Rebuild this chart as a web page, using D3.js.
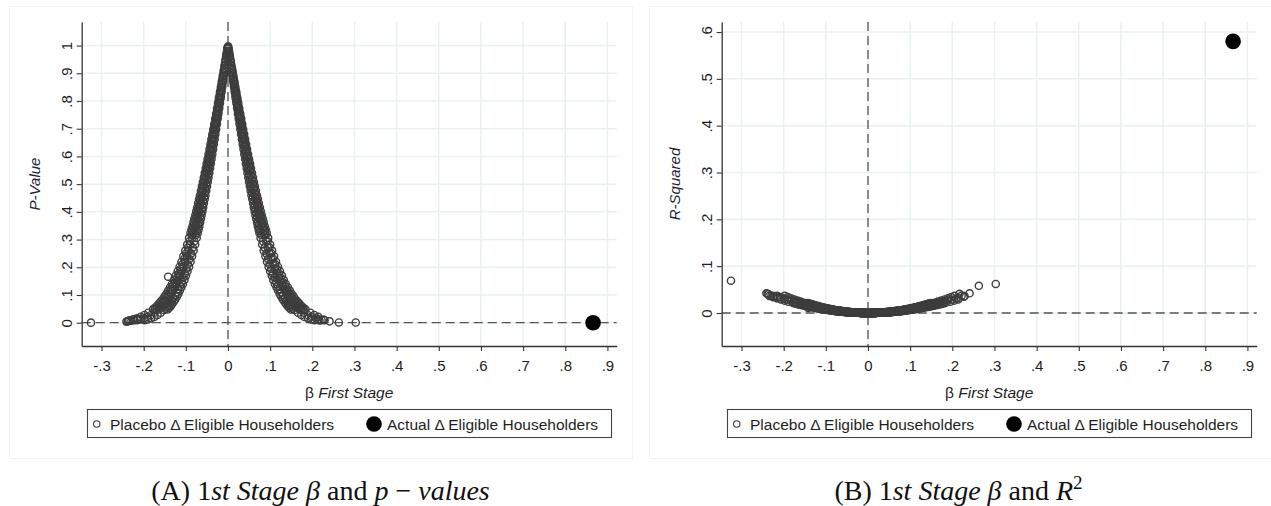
<!DOCTYPE html>
<html>
<head>
<meta charset="utf-8">
<script src="https://cdnjs.cloudflare.com/ajax/libs/d3/7.8.5/d3.min.js"></script>
<style>
    body { margin: 0; background: #fff; }
    svg { display: block; font-family: "Liberation Sans", Arial, sans-serif; }
</style>
</head>
<body>
<div id="chart"></div>
<script>
// tick values
var betaTicks = [-0.3, -0.2, -0.1, 0, 0.1, 0.2, 0.3, 0.4, 0.5, 0.6, 0.7, 0.8, 0.9];
var pValueTicks = [0, 0.1, 0.2, 0.3, 0.4, 0.5, 0.6, 0.7, 0.8, 0.9, 1];
var rSquaredTicks = [0, 0.1, 0.2, 0.3, 0.4, 0.5, 0.6];

var legendLabels = ["Placebo \u0394 Eligible Householders", "Actual \u0394 Eligible Householders"];

// actual estimate
var actualBeta = [0.866];
var actualPValue = [0.0];
var actualRSquared = [0.58];

// placebo estimates (beta, p-value, R-squared)
var placeboBeta = [
    -0.0019, -0.0038, -0.0057, -0.0076, -0.0095, -0.0114, -0.0133, -0.0152, -0.0171, -0.0190,
    -0.0209, -0.0228, -0.0247, -0.0266, -0.0285, -0.0304, -0.0323, -0.0342, -0.0361, -0.0380,
    -0.0399, -0.0418, -0.0437, -0.0456, -0.0475, -0.0494, -0.0513, -0.0532, -0.0551, -0.0570,
    -0.0589, -0.0608, -0.0627, -0.0646, -0.0665, -0.0684, -0.0703, -0.0722, -0.0741, -0.0760,
    -0.0011, -0.0034, -0.0056, -0.0079, -0.0101, -0.0124, -0.0146, -0.0169, -0.0191, -0.0214,
    -0.0236, -0.0259, -0.0281, -0.0304, -0.0326, -0.0349, -0.0371, -0.0394, -0.0416, -0.0439,
    -0.0461, -0.0484, -0.0506, -0.0529, -0.0551, -0.0574, -0.0596, -0.0619, -0.0641, -0.0664,
    -0.0686, -0.0709, -0.0731, -0.0754, -0.0776, -0.0799, -0.0821, -0.0844, -0.0866, -0.0889,
    0.0020, 0.0040, 0.0059, 0.0079, 0.0099, 0.0119, 0.0138, 0.0158, 0.0178, 0.0198,
    0.0217, 0.0237, 0.0257, 0.0277, 0.0296, 0.0316, 0.0336, 0.0356, 0.0375, 0.0395,
    0.0415, 0.0435, 0.0454, 0.0474, 0.0494, 0.0514, 0.0533, 0.0553, 0.0573, 0.0593,
    0.0612, 0.0632, 0.0652, 0.0672, 0.0691, 0.0711, 0.0731, 0.0751, 0.0770, 0.0790,
    0.0012, 0.0035, 0.0058, 0.0081, 0.0105, 0.0128, 0.0151, 0.0174, 0.0198, 0.0221,
    0.0244, 0.0267, 0.0291, 0.0314, 0.0337, 0.0360, 0.0384, 0.0407, 0.0430, 0.0453,
    0.0477, 0.0500, 0.0523, 0.0546, 0.0570, 0.0593, 0.0616, 0.0639, 0.0663, 0.0686,
    0.0709, 0.0732, 0.0756, 0.0779, 0.0802, 0.0825, 0.0849, 0.0872, 0.0895, 0.0918,
    -0.0798, -0.0836, -0.0874, -0.0912, -0.0950, -0.0988, -0.1026, -0.1064, -0.1102, -0.1140,
    -0.1178, -0.1216, -0.1254, -0.1292, -0.1330, -0.1368, -0.1406, -0.1444, -0.1482, -0.1520,
    -0.0923, -0.0968, -0.1013, -0.1058, -0.1103, -0.1148, -0.1193, -0.1238, -0.1283, -0.1328,
    -0.1373, -0.1418, -0.1463, -0.1508, -0.1553, -0.1598, -0.1643, -0.1688, -0.1733, -0.1778,
    0.0830, 0.0869, 0.0909, 0.0948, 0.0988, 0.1027, 0.1067, 0.1106, 0.1146, 0.1185,
    0.1225, 0.1264, 0.1304, 0.1343, 0.1383, 0.1422, 0.1462, 0.1501, 0.1541, 0.1580,
    0.0953, 0.1000, 0.1046, 0.1093, 0.1139, 0.1186, 0.1232, 0.1279, 0.1325, 0.1372,
    0.1418, 0.1465, 0.1511, 0.1558, 0.1604, 0.1651, 0.1697, 0.1744, 0.1790, 0.1837,
    -0.1596, -0.1672, -0.1748, -0.1824, -0.1900, -0.1976,
    -0.1890, -0.1980, -0.2070, -0.2160, -0.2250, -0.2340,
    0.1659, 0.1738, 0.1817, 0.1896, 0.1975, 0.2054,
    0.1953, 0.2046, 0.2139,
    -0.325, -0.241, -0.238, -0.236, -0.229, -0.222, -0.213, -0.142, 0.0005, -0.0006,
    0.209, 0.215, 0.217, 0.222, 0.227, 0.229, 0.241, 0.263, 0.303,
    -0.0010, -0.0031, -0.0052, -0.0073, -0.0093, -0.0114, -0.0135, -0.0156, -0.0176, -0.0197,
    -0.0218, -0.0239, -0.0259, -0.0280, -0.0301, -0.0322, -0.0342, -0.0363, -0.0384, -0.0405,
    -0.0425, -0.0446, -0.0467, -0.0488, -0.0508, -0.0529, -0.0550, -0.0571, -0.0591, -0.0612,
    -0.0633, -0.0654, -0.0674, -0.0695, -0.0716, -0.0737, -0.0757, -0.0778, -0.0799, -0.0820,
    0.0022, 0.0043, 0.0065, 0.0086, 0.0108, 0.0129, 0.0151, 0.0172, 0.0194, 0.0215,
    0.0237, 0.0258, 0.0280, 0.0301, 0.0323, 0.0344, 0.0366, 0.0387, 0.0409, 0.0430,
    0.0452, 0.0473, 0.0495, 0.0516, 0.0538, 0.0559, 0.0581, 0.0602, 0.0624, 0.0645,
    0.0667, 0.0688, 0.0710, 0.0731, 0.0753, 0.0774, 0.0796, 0.0817, 0.0839, 0.0860,
    -0.0851, -0.0892, -0.0934, -0.0975, -0.1017, -0.1058, -0.1100, -0.1141, -0.1183, -0.1224,
    -0.1266, -0.1307, -0.1349, -0.1390, -0.1432, -0.1473, -0.1515, -0.1556, -0.1598, -0.1639,
    0.0903, 0.0946, 0.0989, 0.1032, 0.1075, 0.1118, 0.1161, 0.1204, 0.1247, 0.1290,
    0.1333, 0.1376, 0.1419, 0.1462, 0.1505, 0.1548, 0.1591, 0.1634, 0.1677, 0.1720,
    -0.1743, -0.1826, -0.1909, -0.1992, -0.2075, -0.2158,
    0.1806, 0.1892, 0.1978,
    -0.0009, -0.0027, -0.0045, -0.0063, -0.0082, -0.0100, -0.0118, -0.0136, -0.0154, -0.0172,
    -0.0190, -0.0208, -0.0227, -0.0245, -0.0263, -0.0281, -0.0299, -0.0317, -0.0335, -0.0353,
    -0.0372, -0.0390, -0.0408, -0.0426, -0.0444, -0.0462, -0.0480, -0.0498, -0.0517, -0.0535,
    -0.0553, -0.0571, -0.0589, -0.0607, -0.0625, -0.0643, -0.0662, -0.0680, -0.0698, -0.0716,
    -0.0022, -0.0043, -0.0065, -0.0087, -0.0108, -0.0130, -0.0151, -0.0173, -0.0195, -0.0216,
    -0.0238, -0.0260, -0.0281, -0.0303, -0.0324, -0.0346, -0.0368, -0.0389, -0.0411, -0.0433,
    -0.0454, -0.0476, -0.0497, -0.0519, -0.0541, -0.0562, -0.0584, -0.0606, -0.0627, -0.0649,
    -0.0670, -0.0692, -0.0714, -0.0735, -0.0757, -0.0779, -0.0800, -0.0822, -0.0843, -0.0865,
    0.0009, 0.0028, 0.0047, 0.0066, 0.0085, 0.0104, 0.0123, 0.0142, 0.0160, 0.0179,
    0.0198, 0.0217, 0.0236, 0.0255, 0.0274, 0.0293, 0.0311, 0.0330, 0.0349, 0.0368,
    0.0387, 0.0406, 0.0425, 0.0444, 0.0462, 0.0481, 0.0500, 0.0519, 0.0538, 0.0557,
    0.0576, 0.0595, 0.0613, 0.0632, 0.0651, 0.0670, 0.0689, 0.0708, 0.0727, 0.0746,
    0.0022, 0.0045, 0.0067, 0.0090, 0.0112, 0.0134, 0.0157, 0.0179, 0.0201, 0.0224,
    0.0246, 0.0269, 0.0291, 0.0313, 0.0336, 0.0358, 0.0380, 0.0403, 0.0425, 0.0448,
    0.0470, 0.0492, 0.0515, 0.0537, 0.0559, 0.0582, 0.0604, 0.0627, 0.0649, 0.0671,
    0.0694, 0.0716, 0.0738, 0.0761, 0.0783, 0.0806, 0.0828, 0.0850, 0.0873, 0.0895,
    -0.0743, -0.0779, -0.0816, -0.0852, -0.0888, -0.0924, -0.0961, -0.0997, -0.1033, -0.1069,
    -0.1106, -0.1142, -0.1178, -0.1214, -0.1251, -0.1287, -0.1323, -0.1359, -0.1396, -0.1432,
    -0.0908, -0.0952, -0.0995, -0.1038, -0.1081, -0.1125, -0.1168, -0.1211, -0.1254, -0.1298,
    -0.1341, -0.1384, -0.1427, -0.1471, -0.1514, -0.1557, -0.1600, -0.1644, -0.1687, -0.1730,
    0.0774, 0.0812, 0.0849, 0.0887, 0.0925, 0.0963, 0.1000, 0.1038, 0.1076, 0.1114,
    0.1151, 0.1189, 0.1227, 0.1265, 0.1302, 0.1340, 0.1378, 0.1416, 0.1453, 0.1491,
    0.0940, 0.0985, 0.1029, 0.1074, 0.1119, 0.1164, 0.1208, 0.1253, 0.1298, 0.1343,
    0.1387, 0.1432, 0.1477, 0.1522, 0.1566, 0.1611, 0.1656, 0.1701, 0.1745, 0.1790
];

var placeboPValue = [
    0.980, 0.960, 0.940, 0.920, 0.901, 0.881, 0.861, 0.841, 0.822, 0.803,
    0.783, 0.764, 0.745, 0.726, 0.708, 0.689, 0.671, 0.653, 0.635, 0.617,
    0.600, 0.582, 0.565, 0.549, 0.532, 0.516, 0.500, 0.484, 0.468, 0.453,
    0.438, 0.424, 0.409, 0.395, 0.382, 0.368, 0.355, 0.342, 0.330, 0.317,
    0.990, 0.970, 0.950, 0.930, 0.911, 0.891, 0.871, 0.851, 0.832, 0.812,
    0.793, 0.774, 0.754, 0.736, 0.717, 0.698, 0.680, 0.662, 0.644, 0.626,
    0.608, 0.591, 0.574, 0.557, 0.540, 0.524, 0.508, 0.492, 0.476, 0.460,
    0.446, 0.431, 0.416, 0.402, 0.388, 0.375, 0.362, 0.348, 0.336, 0.324,
    0.980, 0.960, 0.940, 0.920, 0.901, 0.881, 0.861, 0.841, 0.822, 0.803,
    0.783, 0.764, 0.745, 0.726, 0.708, 0.689, 0.671, 0.653, 0.635, 0.617,
    0.600, 0.582, 0.565, 0.549, 0.532, 0.516, 0.500, 0.484, 0.468, 0.453,
    0.438, 0.424, 0.409, 0.395, 0.382, 0.368, 0.355, 0.342, 0.330, 0.317,
    0.990, 0.970, 0.950, 0.930, 0.911, 0.891, 0.871, 0.851, 0.832, 0.812,
    0.793, 0.774, 0.754, 0.736, 0.717, 0.698, 0.680, 0.662, 0.644, 0.626,
    0.608, 0.591, 0.574, 0.557, 0.540, 0.524, 0.508, 0.492, 0.476, 0.460,
    0.446, 0.431, 0.416, 0.402, 0.388, 0.375, 0.362, 0.348, 0.336, 0.324,
    0.294, 0.271, 0.250, 0.230, 0.211, 0.194, 0.177, 0.162, 0.147, 0.134,
    0.121, 0.110, 0.099, 0.089, 0.080, 0.072, 0.064, 0.057, 0.051, 0.046,
    0.306, 0.282, 0.260, 0.240, 0.220, 0.202, 0.186, 0.170, 0.154, 0.140,
    0.128, 0.116, 0.104, 0.094, 0.084, 0.076, 0.068, 0.060, 0.054, 0.048,
    0.294, 0.271, 0.250, 0.230, 0.211, 0.194, 0.177, 0.162, 0.147, 0.134,
    0.121, 0.110, 0.099, 0.089, 0.080, 0.072, 0.064, 0.057, 0.051, 0.046,
    0.306, 0.282, 0.260, 0.240, 0.220, 0.202, 0.186, 0.170, 0.154, 0.140,
    0.128, 0.116, 0.104, 0.094, 0.084, 0.076, 0.068, 0.060, 0.054, 0.048,
    0.036, 0.028, 0.021, 0.016, 0.012, 0.009,
    0.036, 0.028, 0.021, 0.016, 0.012, 0.009,
    0.036, 0.028, 0.021, 0.016, 0.012, 0.009,
    0.036, 0.028, 0.021,
    0.0003, 0.004, 0.005, 0.006, 0.007, 0.009, 0.012, 0.166, 0.997, 0.994,
    0.015, 0.012, 0.008, 0.009, 0.011, 0.009, 0.005, 0.001, 0.0007,
    0.990, 0.970, 0.950, 0.930, 0.911, 0.891, 0.871, 0.851, 0.832, 0.812,
    0.793, 0.774, 0.754, 0.736, 0.717, 0.698, 0.680, 0.662, 0.644, 0.626,
    0.608, 0.591, 0.574, 0.557, 0.540, 0.524, 0.508, 0.492, 0.476, 0.460,
    0.446, 0.431, 0.416, 0.402, 0.388, 0.375, 0.362, 0.348, 0.336, 0.324,
    0.980, 0.960, 0.940, 0.920, 0.901, 0.881, 0.861, 0.841, 0.822, 0.803,
    0.783, 0.764, 0.745, 0.726, 0.708, 0.689, 0.671, 0.653, 0.635, 0.617,
    0.600, 0.582, 0.565, 0.549, 0.532, 0.516, 0.500, 0.484, 0.468, 0.453,
    0.438, 0.424, 0.409, 0.395, 0.382, 0.368, 0.355, 0.342, 0.330, 0.317,
    0.306, 0.282, 0.260, 0.240, 0.220, 0.202, 0.186, 0.170, 0.154, 0.140,
    0.128, 0.116, 0.104, 0.094, 0.084, 0.076, 0.068, 0.060, 0.054, 0.048,
    0.294, 0.271, 0.250, 0.230, 0.211, 0.194, 0.177, 0.162, 0.147, 0.134,
    0.121, 0.110, 0.099, 0.089, 0.080, 0.072, 0.064, 0.057, 0.051, 0.046,
    0.036, 0.028, 0.021, 0.016, 0.012, 0.009,
    0.036, 0.028, 0.021,
    0.990, 0.970, 0.950, 0.930, 0.911, 0.891, 0.871, 0.851, 0.832, 0.812,
    0.793, 0.774, 0.754, 0.736, 0.717, 0.698, 0.680, 0.662, 0.644, 0.626,
    0.608, 0.591, 0.574, 0.557, 0.540, 0.524, 0.508, 0.492, 0.476, 0.460,
    0.446, 0.431, 0.416, 0.402, 0.388, 0.375, 0.362, 0.348, 0.336, 0.324,
    0.980, 0.960, 0.940, 0.920, 0.901, 0.881, 0.861, 0.841, 0.822, 0.803,
    0.783, 0.764, 0.745, 0.726, 0.708, 0.689, 0.671, 0.653, 0.635, 0.617,
    0.600, 0.582, 0.565, 0.549, 0.532, 0.516, 0.500, 0.484, 0.468, 0.453,
    0.438, 0.424, 0.409, 0.395, 0.382, 0.368, 0.355, 0.342, 0.330, 0.317,
    0.990, 0.970, 0.950, 0.930, 0.911, 0.891, 0.871, 0.851, 0.832, 0.812,
    0.793, 0.774, 0.754, 0.736, 0.717, 0.698, 0.680, 0.662, 0.644, 0.626,
    0.608, 0.591, 0.574, 0.557, 0.540, 0.524, 0.508, 0.492, 0.476, 0.460,
    0.446, 0.431, 0.416, 0.402, 0.388, 0.375, 0.362, 0.348, 0.336, 0.324,
    0.980, 0.960, 0.940, 0.920, 0.901, 0.881, 0.861, 0.841, 0.822, 0.803,
    0.783, 0.764, 0.745, 0.726, 0.708, 0.689, 0.671, 0.653, 0.635, 0.617,
    0.600, 0.582, 0.565, 0.549, 0.532, 0.516, 0.500, 0.484, 0.468, 0.453,
    0.438, 0.424, 0.409, 0.395, 0.382, 0.368, 0.355, 0.342, 0.330, 0.317,
    0.306, 0.282, 0.260, 0.240, 0.220, 0.202, 0.186, 0.170, 0.154, 0.140,
    0.128, 0.116, 0.104, 0.094, 0.084, 0.076, 0.068, 0.060, 0.054, 0.048,
    0.294, 0.271, 0.250, 0.230, 0.211, 0.194, 0.177, 0.162, 0.147, 0.134,
    0.121, 0.110, 0.099, 0.089, 0.080, 0.072, 0.064, 0.057, 0.051, 0.046,
    0.306, 0.282, 0.260, 0.240, 0.220, 0.202, 0.186, 0.170, 0.154, 0.140,
    0.128, 0.116, 0.104, 0.094, 0.084, 0.076, 0.068, 0.060, 0.054, 0.048,
    0.294, 0.271, 0.250, 0.230, 0.211, 0.194, 0.177, 0.162, 0.147, 0.134,
    0.121, 0.110, 0.099, 0.089, 0.080, 0.072, 0.064, 0.057, 0.051, 0.046
];

var placeboRSquared = [
    0.0000, 0.0000, 0.0000, 0.0001, 0.0001, 0.0001, 0.0002, 0.0002, 0.0003, 0.0004,
    0.0004, 0.0005, 0.0006, 0.0007, 0.0008, 0.0009, 0.0010, 0.0011, 0.0013, 0.0014,
    0.0015, 0.0017, 0.0019, 0.0020, 0.0022, 0.0024, 0.0026, 0.0027, 0.0029, 0.0032,
    0.0034, 0.0036, 0.0038, 0.0040, 0.0043, 0.0045, 0.0048, 0.0051, 0.0053, 0.0056,
    0.0000, 0.0000, 0.0000, 0.0001, 0.0001, 0.0001, 0.0002, 0.0002, 0.0003, 0.0004,
    0.0004, 0.0005, 0.0006, 0.0007, 0.0008, 0.0009, 0.0010, 0.0011, 0.0013, 0.0014,
    0.0015, 0.0017, 0.0019, 0.0020, 0.0022, 0.0024, 0.0026, 0.0027, 0.0029, 0.0032,
    0.0034, 0.0036, 0.0038, 0.0040, 0.0043, 0.0045, 0.0048, 0.0051, 0.0053, 0.0056,
    0.0000, 0.0000, 0.0000, 0.0001, 0.0001, 0.0001, 0.0002, 0.0002, 0.0003, 0.0004,
    0.0004, 0.0005, 0.0006, 0.0007, 0.0008, 0.0009, 0.0010, 0.0011, 0.0013, 0.0014,
    0.0015, 0.0017, 0.0019, 0.0020, 0.0022, 0.0024, 0.0026, 0.0027, 0.0029, 0.0032,
    0.0034, 0.0036, 0.0038, 0.0040, 0.0043, 0.0045, 0.0048, 0.0051, 0.0053, 0.0056,
    0.0000, 0.0000, 0.0000, 0.0001, 0.0001, 0.0001, 0.0002, 0.0002, 0.0003, 0.0004,
    0.0004, 0.0005, 0.0006, 0.0007, 0.0008, 0.0009, 0.0010, 0.0011, 0.0013, 0.0014,
    0.0015, 0.0017, 0.0019, 0.0020, 0.0022, 0.0024, 0.0026, 0.0027, 0.0029, 0.0032,
    0.0034, 0.0036, 0.0038, 0.0040, 0.0043, 0.0045, 0.0048, 0.0051, 0.0053, 0.0056,
    0.0062, 0.0068, 0.0074, 0.0080, 0.0087, 0.0094, 0.0101, 0.0109, 0.0117, 0.0125,
    0.0133, 0.0142, 0.0151, 0.0160, 0.0169, 0.0179, 0.0189, 0.0199, 0.0209, 0.0220,
    0.0059, 0.0065, 0.0071, 0.0077, 0.0084, 0.0090, 0.0098, 0.0105, 0.0113, 0.0121,
    0.0129, 0.0137, 0.0146, 0.0155, 0.0164, 0.0174, 0.0184, 0.0194, 0.0204, 0.0214,
    0.0062, 0.0068, 0.0074, 0.0080, 0.0087, 0.0094, 0.0101, 0.0109, 0.0117, 0.0125,
    0.0133, 0.0142, 0.0151, 0.0160, 0.0169, 0.0179, 0.0189, 0.0199, 0.0209, 0.0220,
    0.0059, 0.0065, 0.0071, 0.0077, 0.0084, 0.0090, 0.0098, 0.0105, 0.0113, 0.0121,
    0.0129, 0.0137, 0.0146, 0.0155, 0.0164, 0.0174, 0.0184, 0.0194, 0.0204, 0.0214,
    0.0242, 0.0265, 0.0289, 0.0313, 0.0339, 0.0366,
    0.0242, 0.0265, 0.0289, 0.0313, 0.0339, 0.0366,
    0.0242, 0.0265, 0.0289, 0.0313, 0.0339, 0.0366,
    0.0242, 0.0265, 0.0289,
    0.069, 0.042, 0.041, 0.040, 0.037, 0.036, 0.033, 0.0107, 0.0000, 0.0000,
    0.031, 0.032, 0.041, 0.037, 0.035, 0.036, 0.042, 0.058, 0.062,
    0.0000, 0.0000, 0.0000, 0.0001, 0.0001, 0.0001, 0.0002, 0.0002, 0.0003, 0.0004,
    0.0004, 0.0005, 0.0006, 0.0007, 0.0008, 0.0009, 0.0010, 0.0011, 0.0013, 0.0014,
    0.0015, 0.0017, 0.0019, 0.0020, 0.0022, 0.0024, 0.0026, 0.0027, 0.0029, 0.0032,
    0.0034, 0.0036, 0.0038, 0.0040, 0.0043, 0.0045, 0.0048, 0.0051, 0.0053, 0.0056,
    0.0000, 0.0000, 0.0000, 0.0001, 0.0001, 0.0001, 0.0002, 0.0002, 0.0003, 0.0004,
    0.0004, 0.0005, 0.0006, 0.0007, 0.0008, 0.0009, 0.0010, 0.0011, 0.0013, 0.0014,
    0.0015, 0.0017, 0.0019, 0.0020, 0.0022, 0.0024, 0.0026, 0.0027, 0.0029, 0.0032,
    0.0034, 0.0036, 0.0038, 0.0040, 0.0043, 0.0045, 0.0048, 0.0051, 0.0053, 0.0056,
    0.0059, 0.0065, 0.0071, 0.0077, 0.0084, 0.0090, 0.0098, 0.0105, 0.0113, 0.0121,
    0.0129, 0.0137, 0.0146, 0.0155, 0.0164, 0.0174, 0.0184, 0.0194, 0.0204, 0.0214,
    0.0062, 0.0068, 0.0074, 0.0080, 0.0087, 0.0094, 0.0101, 0.0109, 0.0117, 0.0125,
    0.0133, 0.0142, 0.0151, 0.0160, 0.0169, 0.0179, 0.0189, 0.0199, 0.0209, 0.0220,
    0.0242, 0.0265, 0.0289, 0.0313, 0.0339, 0.0366,
    0.0242, 0.0265, 0.0289,
    0.0000, 0.0000, 0.0000, 0.0001, 0.0001, 0.0001, 0.0002, 0.0002, 0.0003, 0.0004,
    0.0004, 0.0005, 0.0006, 0.0007, 0.0008, 0.0009, 0.0010, 0.0011, 0.0013, 0.0014,
    0.0015, 0.0017, 0.0019, 0.0020, 0.0022, 0.0024, 0.0026, 0.0027, 0.0029, 0.0032,
    0.0034, 0.0036, 0.0038, 0.0040, 0.0043, 0.0045, 0.0048, 0.0051, 0.0053, 0.0056,
    0.0000, 0.0000, 0.0000, 0.0001, 0.0001, 0.0001, 0.0002, 0.0002, 0.0003, 0.0004,
    0.0004, 0.0005, 0.0006, 0.0007, 0.0008, 0.0009, 0.0010, 0.0011, 0.0013, 0.0014,
    0.0015, 0.0017, 0.0019, 0.0020, 0.0022, 0.0024, 0.0026, 0.0027, 0.0029, 0.0032,
    0.0034, 0.0036, 0.0038, 0.0040, 0.0043, 0.0045, 0.0048, 0.0051, 0.0053, 0.0056,
    0.0000, 0.0000, 0.0000, 0.0001, 0.0001, 0.0001, 0.0002, 0.0002, 0.0003, 0.0004,
    0.0004, 0.0005, 0.0006, 0.0007, 0.0008, 0.0009, 0.0010, 0.0011, 0.0013, 0.0014,
    0.0015, 0.0017, 0.0019, 0.0020, 0.0022, 0.0024, 0.0026, 0.0027, 0.0029, 0.0032,
    0.0034, 0.0036, 0.0038, 0.0040, 0.0043, 0.0045, 0.0048, 0.0051, 0.0053, 0.0056,
    0.0000, 0.0000, 0.0000, 0.0001, 0.0001, 0.0001, 0.0002, 0.0002, 0.0003, 0.0004,
    0.0004, 0.0005, 0.0006, 0.0007, 0.0008, 0.0009, 0.0010, 0.0011, 0.0013, 0.0014,
    0.0015, 0.0017, 0.0019, 0.0020, 0.0022, 0.0024, 0.0026, 0.0027, 0.0029, 0.0032,
    0.0034, 0.0036, 0.0038, 0.0040, 0.0043, 0.0045, 0.0048, 0.0051, 0.0053, 0.0056,
    0.0059, 0.0065, 0.0071, 0.0077, 0.0084, 0.0090, 0.0098, 0.0105, 0.0113, 0.0121,
    0.0129, 0.0137, 0.0146, 0.0155, 0.0164, 0.0174, 0.0184, 0.0194, 0.0204, 0.0214,
    0.0062, 0.0068, 0.0074, 0.0080, 0.0087, 0.0094, 0.0101, 0.0109, 0.0117, 0.0125,
    0.0133, 0.0142, 0.0151, 0.0160, 0.0169, 0.0179, 0.0189, 0.0199, 0.0209, 0.0220,
    0.0059, 0.0065, 0.0071, 0.0077, 0.0084, 0.0090, 0.0098, 0.0105, 0.0113, 0.0121,
    0.0129, 0.0137, 0.0146, 0.0155, 0.0164, 0.0174, 0.0184, 0.0194, 0.0204, 0.0214,
    0.0062, 0.0068, 0.0074, 0.0080, 0.0087, 0.0094, 0.0101, 0.0109, 0.0117, 0.0125,
    0.0133, 0.0142, 0.0151, 0.0160, 0.0169, 0.0179, 0.0189, 0.0199, 0.0209, 0.0220
];

// Stata-style labels: .1, -.2, 0, 1
function stataFormat(d) {
    if (Math.abs(d) < 1e-9) return "0";
    if (Math.abs(d - 1) < 1e-9) return "1";
    var s = d3.format(".1f")(Math.abs(d)).replace(/^0/, "");
    return (d < 0 ? "-" : "") + s;
}

var svg = d3.select("#chart")
    .append("svg")
    .attr("width", 1271)
    .attr("height", 506);

var Panel = function (conf) {
    this.left = conf.left;
    this.yDomain = conf.yDomain;
    this.yTicks = conf.yTicks;
    this.yValues = conf.yValues;
    this.actualY = conf.actualY;
    this.yTitle = conf.yTitle;
    this.caption = conf.caption;
    this.captionX = conf.captionX;

    this.init();
};

Panel.prototype.init = function () {
    var vis = this;
    var L = vis.left;

    vis.plot = { left: L + 81.7, right: L + 616.7, top: 22, bottom: 346 };

    vis.g = svg.append("g");

    // faint outer frame
    vis.g.append("rect")
        .attr("x", L + 9.5)
        .attr("y", 6.5)
        .attr("width", 623)
        .attr("height", 452)
        .attr("fill", "none")
        .attr("stroke", "#f3f3f3");

    vis.x = d3.scaleLinear().domain([-0.347, 0.922]).range([vis.plot.left, vis.plot.right]);
    vis.y = d3.scaleLinear().domain(vis.yDomain).range([vis.plot.bottom, vis.plot.top]);

    // grid
    vis.g.append("g").selectAll("line")
        .data(betaTicks)
        .enter().append("line")
        .attr("x1", d => vis.x(d)).attr("x2", d => vis.x(d))
        .attr("y1", vis.plot.top).attr("y2", vis.plot.bottom)
        .attr("stroke", "#e8f0f2")
        .attr("stroke-width", 1.5);
    vis.g.append("g").selectAll("line")
        .data(vis.yTicks)
        .enter().append("line")
        .attr("x1", vis.plot.left).attr("x2", vis.plot.right)
        .attr("y1", d => vis.y(d)).attr("y2", d => vis.y(d))
        .attr("stroke", "#e8f0f2")
        .attr("stroke-width", 1.5);

    // reference lines at zero
    vis.g.append("line")
        .attr("x1", vis.x(0)).attr("x2", vis.x(0))
        .attr("y1", vis.plot.top).attr("y2", vis.plot.bottom)
        .attr("stroke", "#555")
        .attr("stroke-width", 1.3)
        .attr("stroke-dasharray", "9,5");
    vis.g.append("line")
        .attr("x1", vis.plot.left).attr("x2", vis.plot.right)
        .attr("y1", vis.y(0)).attr("y2", vis.y(0))
        .attr("stroke", "#555")
        .attr("stroke-width", 1.3)
        .attr("stroke-dasharray", "9,5");

    // axes
    vis.xAxis = vis.g.append("g")
        .attr("transform", "translate(0," + vis.plot.bottom + ")")
        .call(d3.axisBottom(vis.x)
            .tickValues(betaTicks)
            .tickSize(5)
            .tickSizeOuter(0)
            .tickPadding(9)
            .tickFormat(stataFormat));

    vis.yAxis = vis.g.append("g")
        .attr("transform", "translate(" + vis.plot.left + ",0)")
        .call(d3.axisLeft(vis.y)
            .tickValues(vis.yTicks)
            .tickSize(5)
            .tickSizeOuter(0)
            .tickFormat(stataFormat));
    vis.yAxis.selectAll(".tick text")
        .attr("x", 0)
        .attr("dy", 0)
        .attr("text-anchor", "middle")
        .attr("transform", "translate(-10,0) rotate(-90)");

    [vis.xAxis, vis.yAxis].forEach(function (ax) {
        ax.select(".domain").attr("stroke", "#333").attr("stroke-width", 1.3);
        ax.selectAll(".tick line").attr("stroke", "#333").attr("stroke-width", 1.1);
        ax.selectAll(".tick text")
            .attr("fill", "#1e1e1e")
            .attr("font-size", "15px")
            .attr("font-family", "'Liberation Sans', Arial, sans-serif");
    });

    // axis titles
    var xTitle = vis.g.append("text")
        .attr("x", (vis.plot.left + vis.plot.right) / 2)
        .attr("y", 398)
        .attr("text-anchor", "middle")
        .attr("font-size", "15.5px")
        .attr("fill", "#1e1e1e");
    xTitle.append("tspan").text("\u03b2 ");
    xTitle.append("tspan").attr("font-style", "italic").text("First Stage");

    vis.g.append("text")
        .attr("transform", "translate(" + (L + 40) + "," + ((vis.plot.top + vis.plot.bottom) / 2) + ") rotate(-90)")
        .attr("text-anchor", "middle")
        .attr("font-size", "15px")
        .attr("font-style", "italic")
        .attr("fill", "#1e1e3a")
        .text(vis.yTitle);

    // placebo points
    var points = d3.range(placeboBeta.length).map(function (i) {
        return { x: placeboBeta[i], y: vis.yValues[i] };
    });
    vis.g.append("g").selectAll("circle")
        .data(points)
        .enter().append("circle")
        .attr("cx", d => vis.x(d.x))
        .attr("cy", d => vis.y(d.y))
        .attr("r", 3.6)
        .attr("fill", "none")
        .attr("stroke", "#3d3d3d")
        .attr("stroke-width", 1.4);

    // actual point
    vis.g.append("g").selectAll("circle")
        .data(actualBeta)
        .enter().append("circle")
        .attr("cx", d => vis.x(d))
        .attr("cy", (d, i) => vis.y(vis.actualY[i]))
        .attr("r", 7.8)
        .attr("fill", "#000");

    // legend
    var legend = vis.g.append("g");
    legend.append("rect")
        .attr("x", L + 87.5)
        .attr("y", 409.5)
        .attr("width", 524)
        .attr("height", 28)
        .attr("fill", "#fff")
        .attr("stroke", "#444")
        .attr("stroke-width", 1.1);
    legend.append("circle")
        .attr("cx", L + 96.7).attr("cy", 424)
        .attr("r", 3.2)
        .attr("fill", "none")
        .attr("stroke", "#3d3d3d")
        .attr("stroke-width", 1.1);
    legend.append("circle")
        .attr("cx", L + 374).attr("cy", 424)
        .attr("r", 7.8)
        .attr("fill", "#000");
    legend.selectAll("text")
        .data(legendLabels)
        .enter().append("text")
        .attr("x", (d, i) => L + (i === 0 ? 110 : 387))
        .attr("y", 429.5)
        .attr("font-size", "15.5px")
        .attr("fill", "#1e1e1e")
        .text(d => d);

    // caption under the panel
    var cap = svg.append("text")
        .attr("x", L + vis.captionX)
        .attr("y", 500)
        .attr("text-anchor", "middle")
        .attr("font-family", "'Liberation Serif', 'Times New Roman', serif")
        .attr("font-size", "28px")
        .attr("fill", "#111");
    vis.caption.forEach(function (part) {
        var t = cap.append("tspan").text(part.text);
        if (part.italic) t.attr("font-style", "italic");
        if (part.sup) t.attr("font-size", "19px").attr("dy", -11);
    });
};

new Panel({
    left: 0,
    yDomain: [-0.084, 1.085],
    yTicks: pValueTicks,
    yValues: placeboPValue,
    actualY: actualPValue,
    yTitle: "P-Value",
    captionX: 320.5,
    caption: [
        { text: "(A) 1" },
        { text: "st Stage \u03b2", italic: true },
        { text: " and " },
        { text: "p", italic: true },
        { text: " \u2212 " },
        { text: "values", italic: true }
    ]
});

new Panel({
    left: 640,
    yDomain: [-0.0705, 0.6214],
    yTicks: rSquaredTicks,
    yValues: placeboRSquared,
    actualY: actualRSquared,
    yTitle: "R-Squared",
    captionX: 318.5,
    caption: [
        { text: "(B) 1" },
        { text: "st Stage \u03b2", italic: true },
        { text: " and " },
        { text: "R", italic: true },
        { text: "2", sup: true }
    ]
});
</script>
</body>
</html>
